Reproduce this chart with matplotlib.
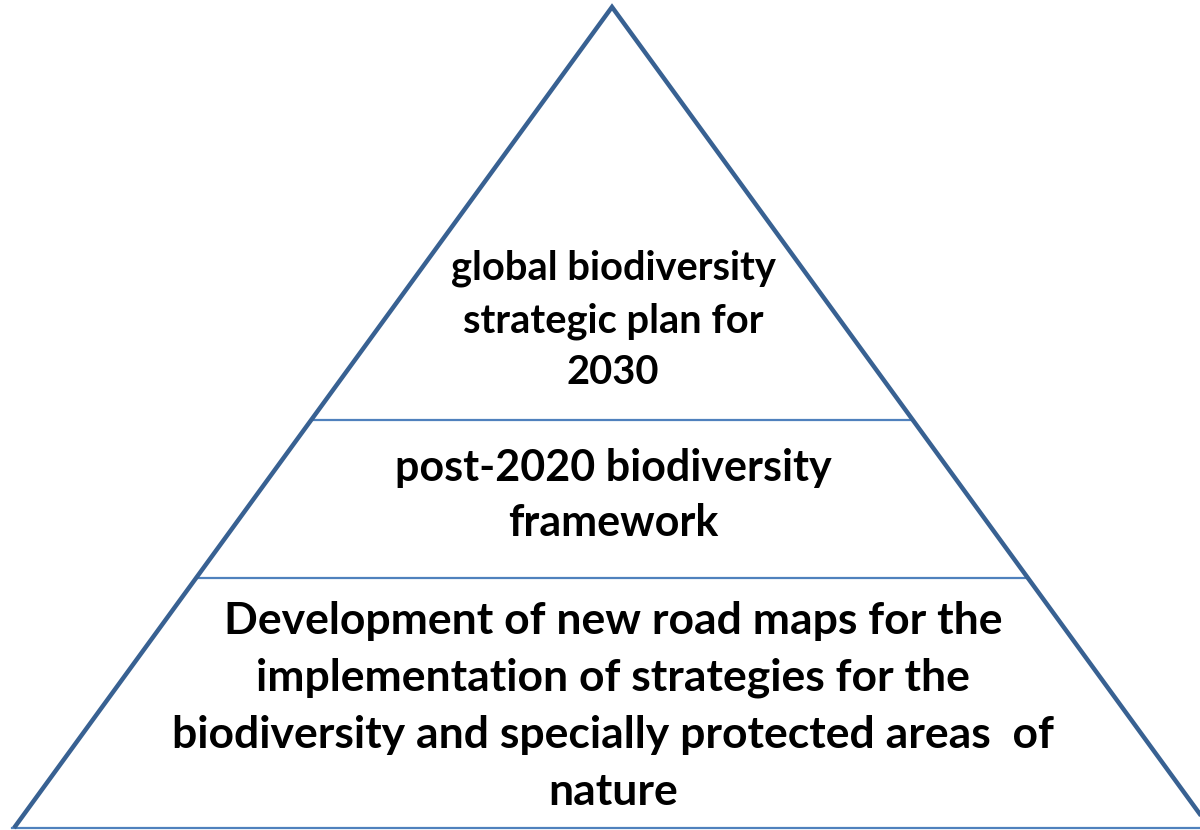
import matplotlib
matplotlib.use("Agg")
import matplotlib.pyplot as plt

# Pyramid tiers (top to bottom)
tier_labels = [
    ["global biodiversity", "strategic plan for", "2030"],
    ["post-2020 biodiversity", "framework"],
    ["Development of new road maps for the",
     "implementation of strategies for the",
     "biodiversity and specially protected areas  of",
     "nature"],
]
# Tier boundaries in fraction of pyramid height from apex
tier_bounds = [0.0, 0.503, 0.695, 1.0]

W, H = 1200, 830
apex = (612, 7)
base_y = 828
base_left = 14
base_right = 1210

fig = plt.figure(figsize=(W / 100, H / 100), dpi=100)
ax = fig.add_axes([0, 0, 1, 1])
ax.set_xlim(0, W)
ax.set_ylim(H, 0)
ax.axis("off")

outline = "#386192"
divider = "#4F81BD"

def x_at(y, side):
    t = (y - apex[1]) / (base_y - apex[1])
    if side == "left":
        return apex[0] + t * (base_left - apex[0])
    return apex[0] + t * (base_right - apex[0])

# sides
ax.plot([base_left, apex[0], base_right], [base_y, apex[1], base_y],
        color=outline, lw=3.2, solid_joinstyle="miter", solid_capstyle="butt", zorder=3)
# base
ax.plot([base_left - 2, W], [base_y, base_y], color=divider, lw=1.6, zorder=2)

# dividers
for b in tier_bounds[1:-1]:
    y = apex[1] + b * (base_y - apex[1])
    ax.plot([x_at(y, "left"), x_at(y, "right")], [y, y], color=divider, lw=1.6, zorder=2)

# text
line_pos = [
    [268, 321, 372],
    [468, 523],
    [621, 678, 735, 792],
]
sizes = [28.7, 31, 32]
for lines, ys, fs in zip(tier_labels, line_pos, sizes):
    for s, y in zip(lines, ys):
        ax.text(613, y, s, ha="center", va="center", fontsize=fs,
                fontweight="bold", family=["Lato", "DejaVu Sans"], color="black")

fig.savefig("out.png", dpi=100)
